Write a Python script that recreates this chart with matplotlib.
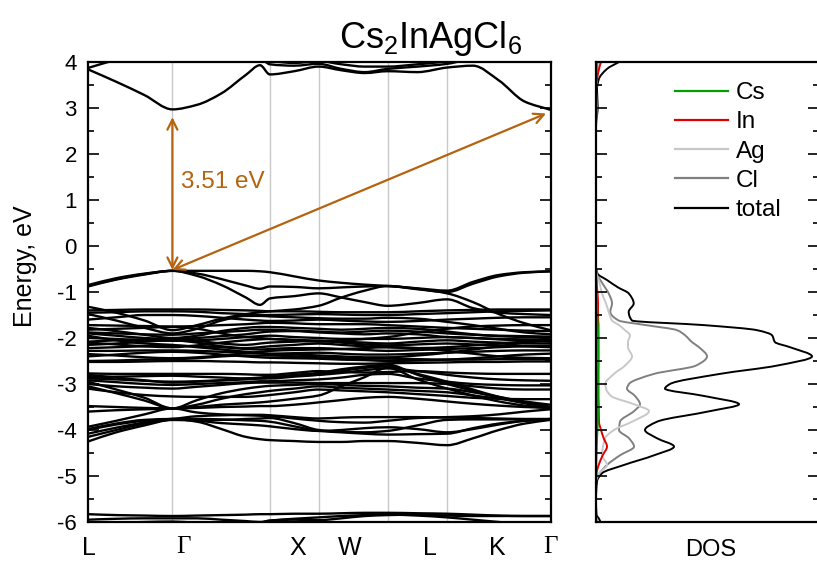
import numpy as np
import matplotlib
matplotlib.use("Agg")
import matplotlib.pyplot as plt
from matplotlib.path import Path
from matplotlib.patches import PathPatch
from matplotlib.lines import Line2D

plt.rcParams['font.family'] = ['Liberation Sans', 'DejaVu Sans']
plt.rcParams['mathtext.fontset'] = 'custom'
plt.rcParams['mathtext.rm'] = 'Liberation Sans'
plt.rcParams['mathtext.it'] = 'Liberation Sans:italic'
plt.rcParams['axes.unicode_minus'] = False

# ---------------- band structure data ----------------
# high-symmetry path L-Γ-X-W-L-K-Γ, distances in 2π/a
node_k = [0.0, 0.866, 1.866, 2.366, 3.073, 3.685, 4.745]
label_k = [0.01, 0.975, 2.15, 2.687, 3.51, 4.196, 4.74]
path_labels = ['L', 'Γ', 'X', 'W', 'L', 'K', 'Γ']

k_path = [0.0, 0.29, 0.58, 0.866, 1.12, 1.37, 1.62, 1.765, 1.866, 2.116,
          2.366, 2.60, 2.84, 3.073, 3.38, 3.685, 3.95, 4.215, 4.48, 4.745]

conduction_bands = [
    [3.84, 3.57, 3.28, 2.97, 3.07, 3.32, 3.72, 3.93, 3.73, 3.80, 3.90, 3.82, 3.76, 3.80, 3.78, 3.88, 3.92, 3.60, 3.14, 2.96],
    [4.30, 4.50, 4.60, 4.70, 4.60, 4.40, 4.20, 4.10, 3.95, 3.92, 3.96, 3.85, 3.78, 3.85, 3.90, 3.96, 4.10, 4.30, 4.50, 4.60],
    [3.87, 4.05, 4.20, 4.30, 4.30, 4.20, 4.10, 4.05, 4.02, 3.98, 4.02, 3.95, 3.90, 3.90, 3.95, 4.02, 4.20, 4.40, 4.60, 4.70],
]

valence_top = [
    [-0.85, -0.70, -0.60, -0.54, -0.54, -0.54, -0.54, -0.55, -0.57, -0.66, -0.75, -0.80, -0.84, -0.87, -0.92, -0.97, -0.78, -0.63, -0.57, -0.55],
    [-0.87, -0.72, -0.61, -0.54, -0.60, -0.72, -0.86, -0.93, -0.88, -0.89, -0.92, -0.90, -0.88, -0.87, -0.94, -1.00, -0.82, -0.66, -0.58, -0.55],
    [-0.88, -0.73, -0.62, -0.54, -0.65, -0.85, -1.12, -1.28, -1.14, -1.09, -1.03, -1.12, -1.22, -1.30, -1.24, -1.16, -1.35, -1.45, -1.48, -1.50],
    [-1.32, -1.45, -1.62, -1.83, -1.72, -1.58, -1.48, -1.44, -1.42, -1.38, -1.30, -1.12, -0.97, -0.87, -0.93, -1.03, -1.22, -1.48, -1.68, -1.83],
]

valence_block1 = [
    [-1.40, -1.39, -1.38, -1.38, -1.38, -1.39, -1.40, -1.41, -1.42, -1.42, -1.43, -1.44, -1.44, -1.44, -1.42, -1.40, -1.39, -1.38, -1.38, -1.38],
    [-1.45, -1.44, -1.42, -1.42, -1.43, -1.46, -1.48, -1.50, -1.50, -1.49, -1.48, -1.49, -1.50, -1.50, -1.48, -1.46, -1.44, -1.42, -1.41, -1.40],
    [-1.48, -1.62, -1.78, -1.90, -1.80, -1.62, -1.52, -1.52, -1.53, -1.55, -1.57, -1.58, -1.58, -1.56, -1.58, -1.65, -1.72, -1.80, -1.88, -1.92],
    [-1.60, -1.55, -1.50, -1.50, -1.52, -1.56, -1.60, -1.62, -1.63, -1.62, -1.60, -1.62, -1.64, -1.65, -1.63, -1.60, -1.58, -1.56, -1.55, -1.55],
    [-1.72, -1.73, -1.74, -1.75, -1.74, -1.72, -1.70, -1.68, -1.67, -1.68, -1.70, -1.70, -1.70, -1.72, -1.75, -1.78, -1.80, -1.82, -1.84, -1.85],
    [-1.78, -1.85, -1.93, -2.00, -1.95, -1.85, -1.78, -1.76, -1.76, -1.78, -1.80, -1.82, -1.80, -1.78, -1.80, -1.86, -1.92, -1.96, -1.98, -2.00],
    [-1.88, -1.90, -1.92, -1.93, -1.90, -1.87, -1.84, -1.82, -1.82, -1.84, -1.86, -1.88, -1.86, -1.84, -1.86, -1.90, -1.93, -1.95, -1.96, -1.97],
    [-1.90, -1.95, -2.00, -2.02, -2.00, -1.96, -1.92, -1.88, -1.86, -1.85, -1.88, -1.90, -1.92, -1.90, -1.92, -1.98, -2.00, -2.02, -2.03, -2.04],
    [-2.00, -2.02, -2.05, -2.06, -2.05, -2.02, -1.98, -1.96, -1.95, -1.98, -2.00, -2.02, -2.02, -2.02, -2.00, -1.98, -2.00, -2.03, -2.06, -2.08],
    [-2.08, -2.05, -2.03, -2.02, -2.06, -2.12, -2.15, -2.12, -2.10, -2.08, -2.06, -2.08, -2.10, -2.12, -2.08, -2.05, -2.08, -2.10, -2.12, -2.12],
    [-2.10, -2.14, -2.18, -2.20, -2.16, -2.10, -2.05, -2.03, -2.02, -2.04, -2.06, -2.10, -2.14, -2.16, -2.14, -2.12, -2.14, -2.16, -2.18, -2.20],
    [-2.15, -2.12, -2.08, -2.05, -2.10, -2.18, -2.22, -2.20, -2.18, -2.15, -2.12, -2.15, -2.18, -2.20, -2.22, -2.20, -2.16, -2.12, -2.08, -2.05],
    [-2.22, -2.20, -2.18, -2.17, -2.18, -2.20, -2.24, -2.25, -2.24, -2.22, -2.22, -2.24, -2.26, -2.28, -2.26, -2.24, -2.22, -2.20, -2.18, -2.17],
    [-2.28, -2.28, -2.27, -2.27, -2.28, -2.30, -2.32, -2.33, -2.34, -2.33, -2.32, -2.34, -2.36, -2.36, -2.34, -2.32, -2.30, -2.28, -2.27, -2.27],
    [-2.35, -2.38, -2.42, -2.44, -2.42, -2.38, -2.33, -2.30, -2.28, -2.26, -2.25, -2.24, -2.22, -2.20, -2.22, -2.28, -2.34, -2.40, -2.43, -2.44],
    [-2.40, -2.36, -2.32, -2.30, -2.32, -2.36, -2.40, -2.42, -2.43, -2.44, -2.45, -2.47, -2.48, -2.50, -2.49, -2.47, -2.44, -2.40, -2.36, -2.34],
    [-2.50, -2.49, -2.47, -2.46, -2.44, -2.40, -2.38, -2.38, -2.38, -2.40, -2.42, -2.44, -2.45, -2.45, -2.46, -2.47, -2.47, -2.46, -2.46, -2.46],
    [-2.52, -2.52, -2.51, -2.50, -2.50, -2.51, -2.52, -2.53, -2.53, -2.54, -2.55, -2.56, -2.56, -2.55, -2.54, -2.53, -2.52, -2.52, -2.51, -2.51],
    [-1.95, -2.05, -2.12, -2.15, -2.20, -2.25, -2.30, -2.33, -2.35, -2.36, -2.38, -2.40, -2.42, -2.42, -2.38, -2.32, -2.25, -2.18, -2.10, -2.05],
    [-1.82, -1.80, -1.78, -1.76, -1.80, -1.90, -1.98, -2.00, -2.02, -2.05, -2.08, -2.06, -2.02, -1.98, -1.88, -1.80, -1.75, -1.73, -1.72, -1.72],
]

valence_block2 = [
    [-2.77, -2.78, -2.78, -2.78, -2.78, -2.78, -2.79, -2.80, -2.80, -2.76, -2.72, -2.74, -2.75, -2.74, -2.72, -2.75, -2.77, -2.78, -2.78, -2.78],
    [-2.85, -2.84, -2.83, -2.82, -2.84, -2.86, -2.88, -2.88, -2.86, -2.80, -2.76, -2.68, -2.62, -2.58, -2.80, -3.00, -3.15, -3.30, -3.42, -3.52],
    [-2.88, -2.90, -2.93, -2.95, -2.94, -2.92, -2.90, -2.88, -2.88, -2.84, -2.80, -2.72, -2.65, -2.62, -2.78, -2.95, -3.12, -3.28, -3.40, -3.50],
    [-2.80, -2.86, -2.92, -2.97, -2.95, -2.92, -2.88, -2.86, -2.84, -2.82, -2.80, -2.76, -2.70, -2.66, -2.72, -2.80, -2.86, -2.90, -2.92, -2.93],
    [-2.92, -2.96, -3.00, -3.02, -3.00, -2.98, -2.96, -2.94, -2.94, -2.92, -2.90, -2.86, -2.80, -2.78, -2.88, -2.95, -3.00, -3.02, -3.03, -3.03],
    [-3.00, -3.05, -3.08, -3.10, -3.06, -3.02, -2.98, -2.97, -2.97, -2.97, -2.98, -2.98, -2.98, -2.98, -2.98, -3.00, -3.05, -3.10, -3.12, -3.12],
    [-2.95, -3.12, -3.30, -3.53, -3.35, -3.20, -3.10, -3.06, -3.04, -3.02, -3.00, -3.02, -3.04, -3.05, -3.08, -3.10, -3.18, -3.28, -3.38, -3.45],
    [-3.05, -3.20, -3.36, -3.53, -3.45, -3.32, -3.22, -3.18, -3.15, -3.10, -3.05, -3.08, -3.10, -3.12, -3.15, -3.18, -3.25, -3.32, -3.40, -3.50],
    [-3.10, -3.18, -3.24, -3.27, -3.28, -3.28, -3.28, -3.26, -3.24, -3.18, -3.12, -3.14, -3.16, -3.18, -3.22, -3.26, -3.30, -3.32, -3.33, -3.33],
    [-3.60, -3.57, -3.55, -3.53, -3.50, -3.45, -3.42, -3.40, -3.38, -3.32, -3.25, -3.05, -2.85, -2.65, -2.90, -3.10, -3.25, -3.38, -3.47, -3.53],
    [-3.48, -3.50, -3.52, -3.53, -3.52, -3.50, -3.49, -3.48, -3.48, -3.45, -3.40, -3.35, -3.30, -3.28, -3.32, -3.38, -3.43, -3.47, -3.50, -3.52],
]

valence_block3 = [
    [-3.93, -3.80, -3.66, -3.53, -3.62, -3.66, -3.68, -3.69, -3.70, -3.75, -3.80, -3.83, -3.84, -3.80, -3.74, -3.72, -3.70, -3.66, -3.60, -3.55],
    [-4.00, -3.88, -3.80, -3.76, -3.70, -3.68, -3.67, -3.67, -3.68, -3.72, -3.75, -3.73, -3.72, -3.72, -3.72, -3.73, -3.74, -3.75, -3.76, -3.76],
    [-4.15, -4.00, -3.86, -3.76, -3.82, -3.98, -4.15, -4.20, -4.22, -4.24, -4.26, -4.26, -4.24, -4.24, -4.28, -4.33, -4.18, -4.00, -3.86, -3.78],
    [-4.25, -4.05, -3.90, -3.78, -3.78, -3.78, -3.76, -3.75, -3.74, -3.85, -4.00, -4.04, -4.05, -4.02, -3.90, -3.78, -3.77, -3.77, -3.77, -3.77],
    [-4.08, -3.95, -3.84, -3.78, -3.80, -3.85, -3.88, -3.90, -3.92, -3.98, -4.02, -4.00, -3.96, -3.94, -3.98, -4.05, -3.98, -3.88, -3.80, -3.76],
    [-3.98, -3.86, -3.78, -3.76, -3.76, -3.77, -3.79, -3.80, -3.82, -3.92, -4.02, -4.05, -4.08, -4.10, -4.09, -4.08, -3.96, -3.86, -3.80, -3.77],
]

valence_deep = [
    [-5.83, -5.85, -5.86, -5.87, -5.86, -5.85, -5.84, -5.83, -5.83, -5.82, -5.82, -5.81, -5.80, -5.80, -5.81, -5.82, -5.84, -5.86, -5.87, -5.87],
    [-5.95, -5.93, -5.92, -5.92, -5.92, -5.95, -5.98, -6.00, -5.97, -5.93, -5.90, -5.87, -5.85, -5.84, -5.86, -5.90, -5.95, -6.00, -6.05, -6.08],
    [-6.05, -6.02, -6.00, -5.99, -6.02, -6.05, -6.06, -6.02, -5.97, -5.95, -5.96, -5.92, -5.87, -5.85, -5.84, -5.86, -5.87, -5.87, -5.87, -5.87],
]

# gap transitions (k, E)
gap_value = 3.51
vbm = (0.866, -0.52)
cbm_direct = (0.866, 2.80)
cbm_indirect = (4.70, 2.88)

# ---------------- density of states ----------------
dos_energy = [4.0, 3.85, 3.62, 3.4, 3.03, 2.6, -0.45, -0.6, -0.74, -0.9, -1.03, -1.25, -1.43,
              -1.62, -1.72, -1.83, -1.94, -2.09, -2.2, -2.4, -2.6, -2.78, -3.0, -3.1, -3.26,
              -3.44, -3.59, -3.82, -4.0, -4.18, -4.36, -4.55, -4.76, -4.94, -5.12, -5.5,
              -5.84, -5.93, -6.0]
dos_total = [2.3, 1.1, 0.27, 0.1, 0.17, 0.0, 0.0, 0.15, 1.1, 2.2, 3.27, 3.77, 3.27,
             3.6, 10.8, 16.1, 17.6, 17.9, 19.4, 21.6, 18.1, 12.4, 7.4, 6.9, 10.8,
             14.3, 11.4, 6.1, 4.9, 6.1, 7.8, 5.8, 2.8, 0.6, 0.1, 0.0,
             0.05, 0.3, 0.45]
dos_cl = [0.1, 0.15, 0.05, 0.0, 0.05, 0.0, 0.0, 0.05, 0.43, 0.9, 1.27, 1.6, 1.43,
          2.27, 5.0, 8.1, 8.9, 9.6, 10.3, 11.1, 10.0, 5.8, 3.3, 3.1, 3.9,
          4.4, 3.8, 2.4, 2.3, 3.3, 3.8, 2.4, 1.1, 0.37, 0.0, 0.0,
          0.0, 0.05, 0.1]
dos_ag = [0.3, 0.25, 0.1, 0.0, 0.05, 0.0, 0.0, 0.05, 0.27, 0.45, 0.6, 1.0, 1.27,
          1.6, 2.3, 2.9, 3.4, 3.2, 3.2, 3.6, 2.9, 1.8, 0.93, 1.0, 1.5,
          3.8, 5.3, 3.6, 1.8, 0.9, 0.7, 0.6, 1.1, 0.3, 0.0, 0.0,
          0.0, 0.0, 0.05]
dos_in = [0.5, 0.3, 0.1, 0.0, 0.0, 0.0, 0.0, 0.0, 0.05, 0.1, 0.15, 0.2, 0.2,
          0.22, 0.25, 0.25, 0.25, 0.25, 0.25, 0.25, 0.25, 0.25, 0.25, 0.25, 0.25,
          0.27, 0.28, 0.3, 0.5, 0.77, 1.1, 0.67, 0.27, 0.05, 0.0, 0.0,
          0.0, 0.0, 0.0]
dos_cs = [0.05, 0.05, 0.02, 0.0, 0.0, 0.0, 0.0, 0.0, 0.02, 0.05, 0.08, 0.1, 0.12,
          0.15, 0.18, 0.2, 0.22, 0.22, 0.22, 0.23, 0.22, 0.2, 0.2, 0.2, 0.2,
          0.2, 0.2, 0.18, 0.15, 0.1, 0.08, 0.05, 0.02, 0.0, 0.0, 0.0,
          0.0, 0.0, 0.0]

dos_series = [('Cs', dos_cs, '#00a000'), ('In', dos_in, '#e00000'),
              ('Ag', dos_ag, '#c8c8c8'), ('Cl', dos_cl, '#808080'),
              ('total', dos_total, '#000000')]

ARROW_COLOR = '#b5630e'
GRID_COLOR = '#c8c8c8'


def smooth_curve(t, v, swap=False):
    """Monotone cubic (PCHIP-style) Bezier path through the given points."""
    t = np.asarray(t, float)
    v = np.asarray(v, float)
    order = np.argsort(t)
    t, v = t[order], v[order]
    h = np.diff(t)
    d = np.diff(v) / h
    m = np.zeros_like(v)
    for i in range(1, len(v) - 1):
        if d[i - 1] * d[i] > 0:
            w1 = 2 * h[i] + h[i - 1]
            w2 = h[i] + 2 * h[i - 1]
            m[i] = (w1 + w2) / (w1 / d[i - 1] + w2 / d[i])
    m[0], m[-1] = d[0], d[-1]
    verts = [(t[0], v[0])]
    codes = [Path.MOVETO]
    for i in range(len(h)):
        verts += [(t[i] + h[i] / 3, v[i] + m[i] * h[i] / 3),
                  (t[i + 1] - h[i] / 3, v[i + 1] - m[i + 1] * h[i] / 3),
                  (t[i + 1], v[i + 1])]
        codes += [Path.CURVE4] * 3
    if swap:
        verts = [(b, a) for a, b in verts]
    return Path(verts, codes)


fig = plt.figure(figsize=(8.17, 5.64), dpi=100)
ax = fig.add_axes([88 / 817, 42 / 564, 462.5 / 817, 460 / 564])
ax_dos = fig.add_axes([596 / 817, 42 / 564, 223 / 817, 460 / 564])

# ---- band structure panel ----
for kx in node_k[1:-1]:
    ax.axvline(kx, color=GRID_COLOR, lw=1.0, zorder=0)

for group in (conduction_bands, valence_top, valence_block1, valence_block2,
              valence_block3, valence_deep):
    for band in group:
        ax.add_patch(PathPatch(smooth_curve(k_path, band), fill=False,
                               edgecolor='black', lw=1.7, zorder=2))

for target in (cbm_direct, cbm_indirect):
    ax.annotate('', xy=target, xytext=vbm,
                arrowprops=dict(arrowstyle='<->', color=ARROW_COLOR, lw=1.6,
                                mutation_scale=18, shrinkA=0, shrinkB=0),
                zorder=4)
ax.text(0.955, 1.39, f'{gap_value:.2f} eV', color=ARROW_COLOR, fontsize=17.5,
        ha='left', va='center')

ax.set_xlim(node_k[0], node_k[-1])
ax.set_ylim(-6, 4)
ax.set_yticks(np.arange(-6, 5, 1))
ax.set_yticks(np.arange(-5.5, 4, 1), minor=True)
ax.set_xticks(label_k)
ax.set_xticklabels(path_labels)
for lab, name in zip(ax.get_xticklabels(), path_labels):
    if name == 'Γ':
        lab.set_family(['Liberation Serif', 'DejaVu Serif'])
ax.tick_params(axis='x', length=0, labelsize=18, pad=10)
ax.tick_params(axis='y', which='both', direction='in', left=True, right=True,
               labelsize=16, width=1.2, pad=8)
ax.tick_params(axis='y', which='major', length=8)
ax.tick_params(axis='y', which='minor', length=4.5)
for s in ax.spines.values():
    s.set_linewidth(1.6)

fig.text(25 / 817, 1 - 266 / 564, 'Energy, eV', fontsize=18, rotation=90,
         ha='center', va='center')

# ---- DOS panel ----
handles = []
for name, vals, col in reversed(dos_series):
    ax_dos.add_patch(PathPatch(smooth_curve(dos_energy, vals, swap=True),
                               fill=False, edgecolor=col, lw=1.4))
for name, vals, col in dos_series:
    handles.append(Line2D([], [], color=col, lw=1.6, label=name))

ax_dos.set_xlim(0, 22.3)
ax_dos.set_ylim(-6, 4)
ax_dos.set_yticks(np.arange(-6, 5, 1))
ax_dos.set_yticks(np.arange(-5.5, 4, 1), minor=True)
ax_dos.set_xticks([])
ax_dos.tick_params(axis='y', which='both', direction='in', left=True,
                   right=True, labelleft=False, width=1.2)
ax_dos.tick_params(axis='y', which='major', length=8)
ax_dos.tick_params(axis='y', which='minor', length=4.5)
for s in ax_dos.spines.values():
    s.set_linewidth(1.6)

fig.text(711 / 817, 1 - 550 / 564, 'DOS', fontsize=17, ha='center', va='center')

ax_dos.legend(handles=handles, loc='upper left',
              bbox_to_anchor=(79 / 223, 1 - 20 / 460), frameon=False,
              fontsize=17.5, handlelength=2.2, handletextpad=0.3,
              labelspacing=0.3, borderaxespad=0, borderpad=0)

fig.text(431 / 817, 1 - 38 / 564, 'Cs$_2$InAgCl$_6$', fontsize=26,
         ha='center', va='center')

fig.savefig('out.png', dpi=100)
